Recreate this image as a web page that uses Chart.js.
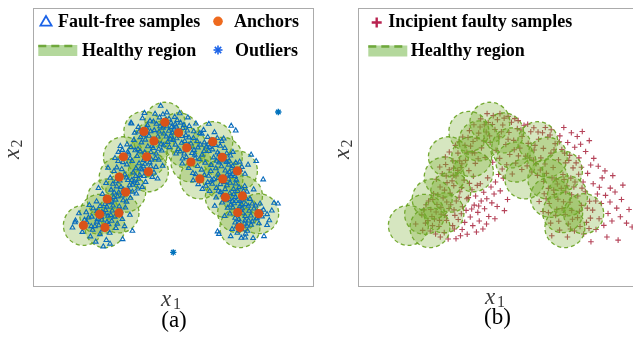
<!DOCTYPE html>
<html>
<head>
<meta charset="utf-8">
<script src="https://cdn.jsdelivr.net/npm/chart.js@4.4.1/dist/chart.umd.min.js"></script>
<style>
  html, body { margin: 0; padding: 0; background: #fff; overflow: hidden; width: 633px; height: 337px; }
  .panel { position: absolute; top: 0; width: 320px; height: 337px; }
</style>
</head>
<body>
<div class="panel" style="left:0"><canvas id="panelA" width="320" height="337"></canvas></div>
<div class="panel" style="left:325px"><canvas id="panelB" width="320" height="337"></canvas></div>
<script>
// Anchor points (centres of the healthy-region discs), in (x1, x2) units
const anchors = [
  [47.1,58.9],[39.6,55.6],[52.0,55.1],[43.2,52.2],[64.2,51.9],[54.9,49.7],[32.3,46.5],
  [40.6,46.5],[67.6,46.3],[56.4,44.6],[41.2,41.1],[73.0,41.4],[30.8,39.2],[67.8,38.5],
  [59.6,38.5],[33.1,33.8],[26.5,31.3],[74.8,32.4],[68.7,31.9],[23.8,25.8],[30.7,26.3],
  [73.1,26.4],[80.6,26.0],[18.0,21.8],[25.7,21.0],[73.9,21.0]
];

// Samples rejected as outliers
const outliers = [[87.6,62.6],[50.1,12.1]];

// Fault-free training samples
const faultFree = [
  [15.2,23.5],[17.6,19.4],[19.8,24.6],[21.3,20.2],[16.4,26.1],[20.5,17.8],[22.8,23.1],[14.1,21.0],
  [23.9,18.6],[27.4,19.1],[24.6,23.8],[28.1,23.4],[26.2,16.5],[22.4,15.9],[29.6,20.8],[25.1,14.2],
  [21.5,27.9],[25.9,27.3],[22.7,30.4],[24.4,24.9],[26.8,25.2],[20.1,29.1],
  [28.6,28.9],[31.9,24.1],[33.0,28.2],[29.5,31.0],[30.1,22.4],[32.7,21.5],[34.6,25.6],[27.8,25.5],
  [24.8,33.1],[27.9,34.6],[25.7,29.4],[28.8,32.0],[23.4,35.2],[29.9,35.8],[26.1,37.0],
  [31.4,35.6],[34.8,31.7],[35.6,36.4],[32.2,30.8],[36.9,33.2],[30.6,33.6],[33.9,38.1],[37.8,38.5],
  [28.9,41.3],[31.7,42.0],[29.6,37.6],[32.8,40.1],[27.6,38.9],[33.5,43.7],[26.8,42.5],[30.4,44.9],
  [39.4,43.0],[42.6,39.2],[38.1,39.9],[43.9,42.8],[40.2,37.4],[36.8,42.3],[44.5,38.6],[41.7,44.4],[39.0,35.6],
  [30.5,48.2],[34.1,47.6],[31.2,50.3],[35.4,44.9],[33.6,50.9],[29.3,46.0],[36.5,48.8],
  [38.3,48.4],[42.1,48.1],[39.5,45.3],[43.8,46.0],[37.2,46.7],[41.0,50.2],[44.9,49.3],[38.7,51.6],
  [41.4,54.0],[44.6,53.7],[42.5,50.3],[45.8,51.1],[40.1,52.6],[43.3,56.0],[46.7,54.8],
  [37.6,57.2],[40.9,57.8],[38.4,53.5],[36.3,55.1],[41.8,59.4],[35.2,58.4],[39.1,60.3],
  [45.2,60.6],[48.6,60.1],[46.4,56.9],[49.5,57.2],[44.1,58.3],[47.8,62.4],[50.6,60.8],[43.6,61.9],
  [50.4,56.6],[53.5,56.8],[51.3,53.1],[54.6,54.2],[49.2,54.0],[52.7,58.7],[55.8,57.5],[48.1,51.8],
  [53.1,51.5],[56.4,51.2],[54.0,47.6],[57.5,48.9],[51.9,49.2],[55.7,53.4],[58.6,52.1],
  [54.8,46.3],[57.9,45.9],[55.6,42.4],[58.8,43.1],[53.3,44.0],[57.1,40.6],
  [62.4,53.6],[65.8,53.2],[63.1,50.0],[66.9,50.4],[61.2,51.6],[64.8,55.3],[68.1,53.0],[60.3,54.7],
  [65.9,48.0],[69.2,47.7],[66.4,44.4],[70.1,45.0],[64.5,46.2],[68.5,49.6],[71.4,48.2],[63.6,43.5],
  [58.1,40.2],[61.2,39.9],[59.0,36.6],[62.4,37.3],[57.2,38.0],[60.5,34.9],[63.5,41.3],
  [71.3,43.1],[74.6,42.8],[72.1,39.5],[75.7,40.3],[70.2,41.0],[73.8,44.7],[76.8,43.6],
  [66.1,40.3],[69.3,40.0],[66.9,36.6],[70.4,37.1],[64.6,38.4],[68.6,34.8],[65.5,35.2],[71.6,34.9],
  [67.0,33.7],[70.3,33.3],[67.6,30.0],[71.2,30.6],[65.4,31.8],[69.5,28.1],[64.9,28.8],
  [73.1,34.1],[76.4,33.9],[73.9,30.5],[77.5,31.3],[72.4,36.8],[75.6,35.9],[78.8,34.7],
  [71.4,28.2],[74.7,27.9],[72.2,24.5],[75.8,25.1],[70.3,26.0],[73.6,22.7],[76.9,28.8],
  [78.9,27.8],[82.3,27.4],[79.7,24.2],[83.6,25.8],[77.8,25.3],[81.1,29.6],[85.3,27.1],[84.4,23.6],
  [72.2,22.8],[75.5,22.4],[73.0,19.1],[76.6,19.8],[71.1,20.5],[74.4,17.3],[77.9,22.0],[70.6,17.9],[78.6,17.2],
  [65.9,19.6],[66.4,18.7],[75.8,17.4],[82.5,17.9],[83.6,21.9],[15.0,22.9],[27.5,15.2],[32.0,16.8],
  [35.5,19.8],[33.8,48.2],[36.0,52.5],[39.8,62.2],[45.6,64.8],[52.4,62.1],[58.2,58.4],[62.8,58.3],
  [70.8,57.6],[72.4,55.9],[35.0,58.7],[55.3,60.6],[77.9,47.2],[79.7,44.9],[86.1,29.9],[87.5,29.6],
  [68.4,25.1],[82.2,38.3],
  [50.1,52.5],[48.7,49.9],[46.0,48.7],[51.1,47.6],[53.4,45.8],[49.8,55.1],[47.6,53.7],[44.9,45.4],
  [46.3,43.2],[60.4,47.2],[61.5,44.3],[62.8,48.5],[59.8,50.8],[57.4,55.6],[60.9,56.1],
  [19.2,22.9],[22.1,21.5],[24.9,20.3],[27.0,22.2],[23.0,24.0],[25.5,26.0],[28.3,27.1],[30.8,28.6],
  [27.2,30.1],[24.0,28.7],[29.0,33.6],[31.9,32.5],[34.1,34.6],[31.0,37.9],[28.5,36.7],[33.4,39.0],
  [35.8,40.8],[29.9,42.6],[32.1,44.5],[34.7,45.9],[37.9,44.1],[40.3,41.5],[42.0,43.0],[38.9,41.9],
  [36.1,37.6],[37.4,35.0],
  [31.9,48.9],[35.0,49.9],[37.5,49.2],[39.9,48.0],[42.9,49.6],[44.2,51.9],[42.0,55.6],[39.6,54.4],
  [37.9,55.5],[40.5,56.9],[43.0,59.1],[45.4,57.4],[47.5,59.8],[46.4,61.7],[49.3,58.7],[51.5,59.6],
  [51.8,55.8],[53.2,53.9],[55.1,55.9],[50.9,50.8],[52.6,48.4],[55.6,50.6],[56.8,47.8],[58.9,49.8],
  [57.3,53.2],[59.6,55.0],
  [61.9,50.1],[63.6,52.4],[65.2,50.7],[67.4,52.1],[66.5,47.3],[68.2,45.1],[70.5,46.9],[69.9,43.6],
  [72.4,44.3],[74.0,41.8],[72.6,38.2],[70.7,39.6],[68.7,41.5],[65.3,42.3],[62.7,39.6],[60.2,41.8],
  [64.0,36.7],[66.2,34.2],[69.3,36.2],[71.7,33.0],[73.6,35.5],[75.2,34.2],[76.1,31.5],[74.5,29.3],
  [72.5,30.5],[69.0,30.8],[70.6,29.2],[72.8,26.1],[74.9,26.3],[77.2,27.0],[78.3,29.6],[80.2,26.6],
  [81.8,25.0],[80.7,22.5],[77.0,23.5],[74.6,20.4],[72.7,21.4],[75.9,18.8],
  [45.0,55.5],[47.9,57.4],[50.8,58.1],[49.0,52.9],[46.6,50.6],[44.0,47.6],[42.3,45.4],[40.0,43.9],
  [38.4,42.2],[36.7,39.5],[35.3,38.1],[34.5,36.2],[32.3,34.6],[30.2,32.2],[28.0,30.6],[26.4,28.5],
  [24.6,26.6],[22.9,26.9],[21.0,24.9],[19.0,26.5],[18.4,23.8],[20.8,21.5],[23.5,21.8],[26.4,23.0],
  [29.2,24.9],[31.3,27.0],[33.4,30.3],[35.5,33.9],[37.2,37.0],[39.6,39.5],[41.5,40.6],[43.2,40.8],
  [48.5,55.8],[51.2,57.3],[53.9,57.9],[54.2,52.1],[55.9,49.9],[57.8,47.2],[59.4,45.6],[61.1,48.5],
  [62.6,50.9],[64.1,49.1],[65.6,45.0],[67.3,43.0],[69.1,44.6],[70.9,42.3],[71.3,40.2],[69.8,38.5],
  [68.3,37.4],[66.1,38.8],[63.9,38.0],[61.7,36.0],[63.1,34.1],[67.8,32.8],[70.1,31.3],[72.3,32.0],
  [74.6,31.0],[76.0,29.4],[73.8,28.6],[71.9,29.7],[73.5,24.0],[75.7,23.5],[74.4,21.4],[76.4,21.6],
  [78.3,23.2],[80.0,24.5],[81.5,26.6],[79.5,28.9]
];

// Incipient faulty samples
const faulty = [
  // left arm
  [24.1,22.6],[25.8,19.8],[27.3,24.1],[26.0,27.5],[28.9,21.4],[29.7,25.8],[30.8,19.2],[31.6,23.6],
  [28.2,29.3],[30.4,31.7],[32.5,27.9],[33.8,21.7],[34.6,25.4],[32.9,33.4],[35.1,30.6],[27.0,33.2],
  [29.3,35.6],[31.8,37.2],[34.2,36.1],[36.4,33.9],[30.1,40.4],[32.6,41.8],[35.0,39.6],[36.8,42.6],
  [33.9,45.0],[31.2,46.4],[35.7,47.8],[38.4,45.2],[37.9,38.1],[39.6,41.5],[40.8,47.9],[38.2,50.6],
  [36.1,51.9],[41.9,44.1],[26.4,25.0],[23.5,27.4],[35.8,23.9],[37.3,28.5],[38.9,31.4],[29.4,17.6],
  [32.2,16.9],[25.2,30.6],[28.0,38.4],[37.0,35.4],[33.1,29.2],[36.9,26.0],[39.8,36.9],[41.2,39.5],
  [42.6,36.2],[31.3,43.7],
  [20.6,22.3],[22.8,25.6],[25.0,23.5],[27.9,26.6],[24.3,29.2],[26.7,31.1],[29.6,28.3],[31.7,30.2],
  [28.5,32.8],[30.9,34.5],[33.6,37.8],[31.5,39.6],[29.2,42.8],[34.1,42.4],[36.3,45.0],[32.6,48.2],
  [34.8,50.6],[37.4,53.6],[39.8,55.9],[36.1,31.9],[34.3,27.4],[31.1,25.4],[29.1,23.6],[26.6,21.7],
  [23.1,20.0],[27.7,18.7],[37.1,44.0],[35.6,41.6],[34.0,39.8],[38.9,48.1],
  // inner side of the left arm
  [38.6,27.2],[40.1,24.8],[41.5,29.1],[42.8,26.5],[44.0,30.6],[39.4,31.8],[43.3,23.4],[45.2,27.8],
  [46.7,25.0],[44.9,33.7],[41.0,21.7],[47.8,29.9],[40.7,34.6],[42.0,32.4],[45.9,22.3],[48.6,33.1],
  [43.7,36.8],[46.3,38.9],[47.5,35.6],[49.1,37.4],[50.2,40.1],[37.2,20.3],[39.0,18.6],[35.0,17.0],
  [42.3,19.4],[52.3,27.1],[48.9,24.2],[44.6,20.5],[38.1,22.9],[40.6,27.7],[43.1,28.8],[46.0,31.4],
  [50.8,34.2],[51.9,38.8],[34.4,20.5],[36.6,18.1],[49.7,28.6],[53.4,31.1],
  // top of the arch
  [40.2,50.3],[42.5,53.1],[44.1,49.7],[45.8,55.4],[43.6,57.2],[47.2,51.6],[48.9,56.3],[46.5,58.8],
  [50.4,53.7],[51.7,57.9],[49.3,48.8],[52.8,50.9],[53.9,55.2],[55.6,52.4],[54.2,47.3],[56.9,56.6],
  [57.8,49.6],[58.6,53.8],[59.9,46.7],[60.8,51.3],[61.7,55.5],[56.3,44.2],[58.5,41.9],[53.1,43.6],
  [50.6,45.9],[48.1,44.5],[45.4,46.2],[42.9,45.8],[62.9,48.9],[63.6,44.0],[54.8,58.9],[52.2,60.4],
  [49.8,59.8],[47.0,54.0],[44.9,52.2],[41.7,47.9],[39.3,53.4],[59.3,57.8],[57.2,59.5],[60.4,43.2],
  [62.1,41.0],[55.1,40.3],[51.5,42.1],
  [41.4,58.0],[43.8,60.1],[46.1,62.0],[48.3,61.3],[50.7,62.0],[53.6,61.0],[56.0,60.2],[58.2,56.1],
  [60.6,58.2],[62.8,56.9],[61.3,46.1],[57.3,46.8],[55.8,49.0],[53.6,52.8],[51.2,55.5],[48.0,58.1],
  [45.1,58.0],[43.1,55.0],[41.1,52.0],
  // upper right arm
  [64.5,52.8],[66.2,49.5],[67.8,53.6],[65.3,46.1],[68.9,47.8],[70.4,51.2],[71.6,45.4],[69.7,42.6],
  [72.8,49.1],[74.1,44.3],[73.2,40.1],[75.6,47.0],[76.8,42.5],[66.8,43.9],[64.1,39.8],[67.3,40.5],
  [70.8,38.4],[63.2,50.6],[65.9,55.1],[69.0,56.2],[72.1,54.0],[74.9,51.6],[77.4,49.9],[78.3,53.8],
  [80.1,55.6],[79.5,51.0],[82.6,52.3],[81.3,48.4],[78.9,46.1],[76.0,38.8],[79.8,42.7],[84.2,45.9],
  [83.1,43.5],[71.2,36.7],[74.6,36.0],[68.0,35.1],[66.3,37.6],[62.7,45.3],[73.5,57.0],[76.2,55.1],
  [64.3,55.4],[66.9,57.0],[68.6,54.3],[70.0,49.0],[71.9,51.9],[73.8,47.8],[75.3,45.2],[77.9,44.3],
  [78.8,40.2],[77.5,37.4],[69.3,38.9],[65.1,41.7],
  // lower right arm
  [66.5,33.2],[68.3,29.7],[69.9,34.5],[71.4,31.2],[72.9,27.9],[70.6,25.4],[74.2,33.8],[75.7,30.1],
  [77.1,35.6],[78.5,32.4],[76.3,27.2],[79.8,29.0],[81.2,33.9],[82.7,30.5],[80.4,37.4],[84.0,36.8],
  [85.5,33.1],[83.8,27.3],[86.9,29.7],[88.4,32.6],[87.2,38.9],[88.2,41.4],[90.1,35.2],[91.8,33.8],
  [94.6,36.3],[90.0,30.2],[92.4,28.0],[89.3,26.1],[86.1,24.2],[93.7,24.9],[95.9,22.6],[97.9,21.2],
  [92.9,16.5],[88.9,17.6],[85.0,20.3],[81.6,22.9],[78.4,24.6],[75.1,22.3],[72.0,20.1],[68.8,22.6],
  [66.1,26.8],[64.7,30.4],[80.6,18.7],[83.2,15.9],[77.3,19.8],[96.8,27.5],[94.1,31.1],[91.0,39.7],
  [85.8,43.1],[82.0,40.5],[73.6,38.3],[69.2,18.1],[74.8,17.6],[87.8,21.8],[90.7,23.4],
  [80.0,35.2],[76.3,32.8],[73.4,30.3],[71.0,27.6],[74.0,25.7],[76.6,24.0],[79.1,26.9],[81.9,28.0],
  [83.0,24.4],[84.9,30.6],[86.2,35.5],[79.3,21.4],[82.5,20.7],[75.9,20.5],[71.7,23.3],[68.0,26.4],
  [67.2,31.4],[70.1,32.9],[72.6,35.1]
];

const pts = arr => arr.map(([x, y]) => ({ x, y }));

const COL = {
  blue: 'rgb(0,114,189)',
  orange: 'rgb(217,83,25)',
  greenFill: 'rgba(119,172,48,0.30)',
  greenEdge: 'rgba(110,165,40,0.95)',
  crimson: 'rgba(162,20,47,0.8)',
  frame: '#ababab',
  serif: "'Liberation Serif', 'Times New Roman', serif"
};

// Dashed outline for the healthy-region discs
const ringDash = {
  id: 'ringDash',
  beforeDatasetDraw(chart, args) {
    const ds = chart.data.datasets[args.index];
    if (ds.dash) { chart.ctx.save(); chart.ctx.setLineDash(ds.dash); }
  },
  afterDatasetDraw(chart, args) {
    const ds = chart.data.datasets[args.index];
    if (ds.dash) chart.ctx.restore();
  }
};

// Legend glyphs
function glyph(ctx, kind, x, y) {
  ctx.save();
  ctx.setLineDash([]);
  if (kind === 'triangle') {
    ctx.strokeStyle = '#1b63e8'; ctx.lineWidth = 1.8;
    ctx.beginPath(); ctx.moveTo(x, y - 5); ctx.lineTo(x - 5.6, y + 4.6); ctx.lineTo(x + 5.6, y + 4.6); ctx.closePath(); ctx.stroke();
  } else if (kind === 'dot') {
    ctx.fillStyle = '#ee6a1e';
    ctx.beginPath(); ctx.arc(x, y, 4.8, 0, Math.PI * 2); ctx.fill();
  } else if (kind === 'star') {
    ctx.strokeStyle = '#1b63e8'; ctx.lineWidth = 1.6;
    for (let k = 0; k < 4; k++) {
      const a = k * Math.PI / 4;
      ctx.beginPath(); ctx.moveTo(x - 4.5 * Math.cos(a), y - 4.5 * Math.sin(a)); ctx.lineTo(x + 4.5 * Math.cos(a), y + 4.5 * Math.sin(a)); ctx.stroke();
    }
  } else if (kind === 'plus') {
    ctx.strokeStyle = '#b8224f'; ctx.lineWidth = 2.4;
    ctx.beginPath(); ctx.moveTo(x - 5, y); ctx.lineTo(x + 5, y); ctx.moveTo(x, y - 5); ctx.lineTo(x, y + 5); ctx.stroke();
  } else if (kind === 'region') {
    ctx.fillStyle = '#b4d89c';
    ctx.fillRect(x, y, 39, 11);
    ctx.strokeStyle = '#6fa83c'; ctx.lineWidth = 2.6; ctx.setLineDash([8, 5]);
    ctx.beginPath(); ctx.moveTo(x, y + 1); ctx.lineTo(x + 39, y + 1); ctx.stroke();
  }
  ctx.restore();
}

// Frame, axis names, panel tag and legend
const decor = {
  id: 'decor',
  afterDraw(chart, _a, o) {
    const ctx = chart.ctx;
    const a = chart.chartArea;
    ctx.save();
    ctx.strokeStyle = COL.frame; ctx.lineWidth = 1;
    ctx.strokeRect(a.left + 0.5, a.top + 0.5, a.right - a.left, a.bottom - a.top);

    ctx.fillStyle = '#3a3a3a';
    ctx.textBaseline = 'alphabetic'; ctx.textAlign = 'left';
    // x1 (horizontal)
    ctx.font = 'italic 23px ' + COL.serif;
    ctx.fillText('x', o.x1[0], o.x1[1]);
    ctx.font = '16px ' + COL.serif;
    ctx.fillText('1', o.x1[0] + 12, o.x1[1] + 3);
    // x2 (vertical)
    ctx.save();
    ctx.translate(o.x2[0], o.x2[1]);
    ctx.rotate(-Math.PI / 2);
    ctx.font = 'italic 23px ' + COL.serif;
    ctx.fillText('x', 0, 0);
    ctx.font = '16px ' + COL.serif;
    ctx.fillText('2', 11.5, 3);
    ctx.restore();

    // panel tag
    ctx.fillStyle = '#000';
    ctx.textAlign = 'center';
    ctx.font = '23px ' + COL.serif;
    ctx.fillText(o.tag[0], o.tag[1], o.tag[2]);

    // legend
    ctx.textAlign = 'left';
    ctx.font = 'bold 18px ' + COL.serif;
    o.legend.forEach(e => {
      glyph(ctx, e.kind, e.gx, e.gy);
      ctx.fillStyle = '#000';
      ctx.fillText(e.text, e.tx, e.ty);
    });
    ctx.restore();
  }
};

function baseOptions(decorOpts) {
  return {
    responsive: false,
    animation: false,
    events: [],
    layout: { autoPadding: false, padding: { left: 33, top: 8, right: 7, bottom: 51 } },
    scales: {
      x: { type: 'linear', min: 0, max: 100, display: false },
      y: { type: 'linear', min: 0, max: 100, display: false }
    },
    plugins: { legend: { display: false }, tooltip: { enabled: false }, decor: decorOpts }
  };
}

const regionSet = () => ({
  label: 'Healthy region',
  data: pts(anchors),
  pointStyle: 'circle',
  pointRadius: 20,
  backgroundColor: COL.greenFill,
  borderColor: COL.greenEdge,
  borderWidth: 1.3,
  dash: [4, 3]
});

new Chart(document.getElementById('panelA'), {
  type: 'scatter',
  data: {
    datasets: [
      { label: 'Anchors', data: pts(anchors), pointStyle: 'circle', pointRadius: 4.6,
        backgroundColor: COL.orange, borderWidth: 0 },
      { label: 'Outliers', data: pts(outliers), pointStyle: 'star', pointRadius: 3.2,
        borderColor: COL.blue, backgroundColor: COL.blue, borderWidth: 1.4 },
      { label: 'Fault-free samples', data: pts(faultFree), pointStyle: 'triangle', pointRadius: 2.7,
        borderColor: 'rgb(10,108,188)', backgroundColor: 'rgba(0,0,0,0)', borderWidth: 1.1 },
      regionSet()
    ]
  },
  options: baseOptions({
    x1: [161, 306], x2: [18.5, 159], tag: ['(a)', 174, 327],
    legend: [
      { kind: 'triangle', gx: 46, gy: 21, text: 'Fault-free samples', tx: 58, ty: 27 },
      { kind: 'dot', gx: 218, gy: 21.3, text: 'Anchors', tx: 234, ty: 27 },
      { kind: 'region', gx: 38.3, gy: 45, text: 'Healthy region', tx: 82, ty: 55.5 },
      { kind: 'star', gx: 218, gy: 50, text: 'Outliers', tx: 235, ty: 55.5 }
    ]
  }),
  plugins: [ringDash, decor]
});

new Chart(document.getElementById('panelB'), {
  type: 'scatter',
  data: {
    datasets: [
      regionSet(),
      { label: 'Incipient faulty samples', data: pts(faulty), pointStyle: 'cross', pointRadius: 2.8,
        borderColor: COL.crimson, borderWidth: 1.1 }
    ]
  },
  options: baseOptions({
    x1: [160, 303.5], x2: [23.5, 159], tag: ['(b)', 172.5, 323.5],
    legend: [
      { kind: 'plus', gx: 51.7, gy: 22.5, text: 'Incipient faulty samples', tx: 63.3, ty: 27.3 },
      { kind: 'region', gx: 43.3, gy: 45.5, text: 'Healthy region', tx: 85.7, ty: 55.5 }
    ]
  }),
  plugins: [ringDash, decor]
});
</script>
</body>
</html>
